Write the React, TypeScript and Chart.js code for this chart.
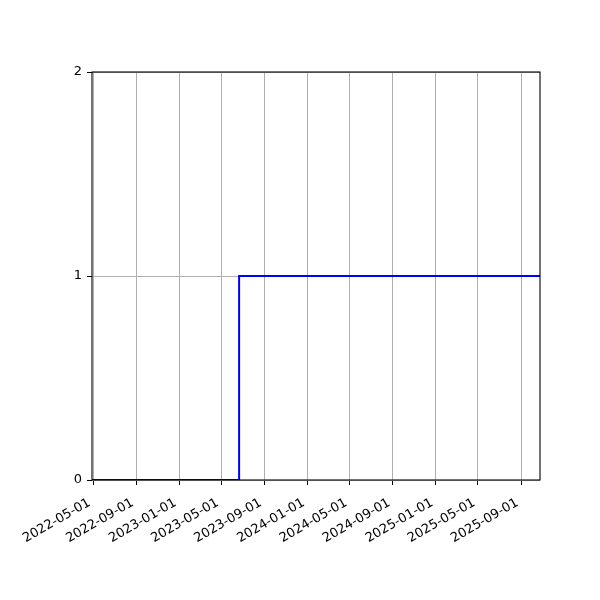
import React, { useEffect, useRef } from 'react';
import { Chart, registerables } from 'chart.js';

Chart.register(...registerables);

// step series: value is 0 until mid-2023, then 1
const stepDates = ['2022-04-28', '2023-06-21', '2025-10-25'];
const stepValues = [0, 1, 1];

const xTickLabels = [
    '2022-05-01', '2022-09-01', '2023-01-01', '2023-05-01', '2023-09-01', '2024-01-01',
    '2024-05-01', '2024-09-01', '2025-01-01', '2025-05-01', '2025-09-01',
];
const yTicks = [0, 1, 2];

const toMs = (s: string) => Date.parse(s + 'T00:00:00Z');

const FONT = { family: '"DejaVu Sans", sans-serif', size: 13 };

// matplotlib-like box around the plot area, drawn on top of the line
const framePlugin = {
    id: 'frame',
    afterDatasetsDraw(chart: any) {
        const { ctx, chartArea } = chart;
        ctx.save();
        ctx.strokeStyle = '#000';
        ctx.lineWidth = 1.1;
        ctx.strokeRect(chartArea.left, chartArea.top, chartArea.right - chartArea.left, chartArea.bottom - chartArea.top);
        ctx.restore();
    },
};

const StepChart: React.FC = () => {
    const canvasRef = useRef<HTMLCanvasElement>(null);

    useEffect(() => {
        if (!canvasRef.current) return;
        const chart = new Chart(canvasRef.current, {
            type: 'line',
            data: {
                datasets: [
                    {
                        data: stepDates.map((d, i) => ({ x: toMs(d), y: stepValues[i] })),
                        borderColor: '#0000ff',
                        borderWidth: 2,
                        pointRadius: 0,
                        stepped: 'before',
                        fill: false,
                    },
                ],
            },
            options: {
                animation: false,
                responsive: false,
                devicePixelRatio: 1,
                layout: { padding: { left: 0, right: 60, top: 72, bottom: 0 } },
                plugins: { legend: { display: false }, tooltip: { enabled: false } },
                scales: {
                    x: {
                        type: 'linear',
                        min: toMs(stepDates[0]),
                        max: toMs(stepDates[stepDates.length - 1]),
                        afterBuildTicks: (scale: any) => {
                            scale.ticks = xTickLabels.map(d => ({ value: toMs(d) }));
                        },
                        afterFit: (scale: any) => { scale.height = 120; },
                        grid: { color: '#b0b0b0', lineWidth: 1, tickColor: '#000', tickLength: 5, drawTicks: true },
                        border: { display: false },
                        ticks: {
                            autoSkip: false,
                            minRotation: 30,
                            maxRotation: 30,
                            padding: 8,
                            color: '#000',
                            font: FONT,
                            // trailing space nudges the rotated label left like matplotlib's ha='right'
                            callback: (_v: any, i: number) => xTickLabels[i] + ' ',
                        },
                    },
                    y: {
                        min: 0,
                        max: 2,
                        afterBuildTicks: (scale: any) => {
                            scale.ticks = yTicks.map(v => ({ value: v }));
                        },
                        afterFit: (scale: any) => { scale.width = 92; },
                        grid: { color: '#b0b0b0', lineWidth: 1, tickColor: '#000', tickLength: 5, drawTicks: true },
                        border: { display: false },
                        ticks: { padding: 5, color: '#000', font: FONT },
                    },
                },
            },
            plugins: [framePlugin],
        } as any);
        return () => chart.destroy();
    }, []);

    return <canvas ref={canvasRef} width={600} height={600} />;
};

export default function App() {
    return (
        <div style={{ position: 'absolute', left: 0, top: 0, width: 600, height: 600, background: '#fff' }}>
            <StepChart />
        </div>
    );
}
